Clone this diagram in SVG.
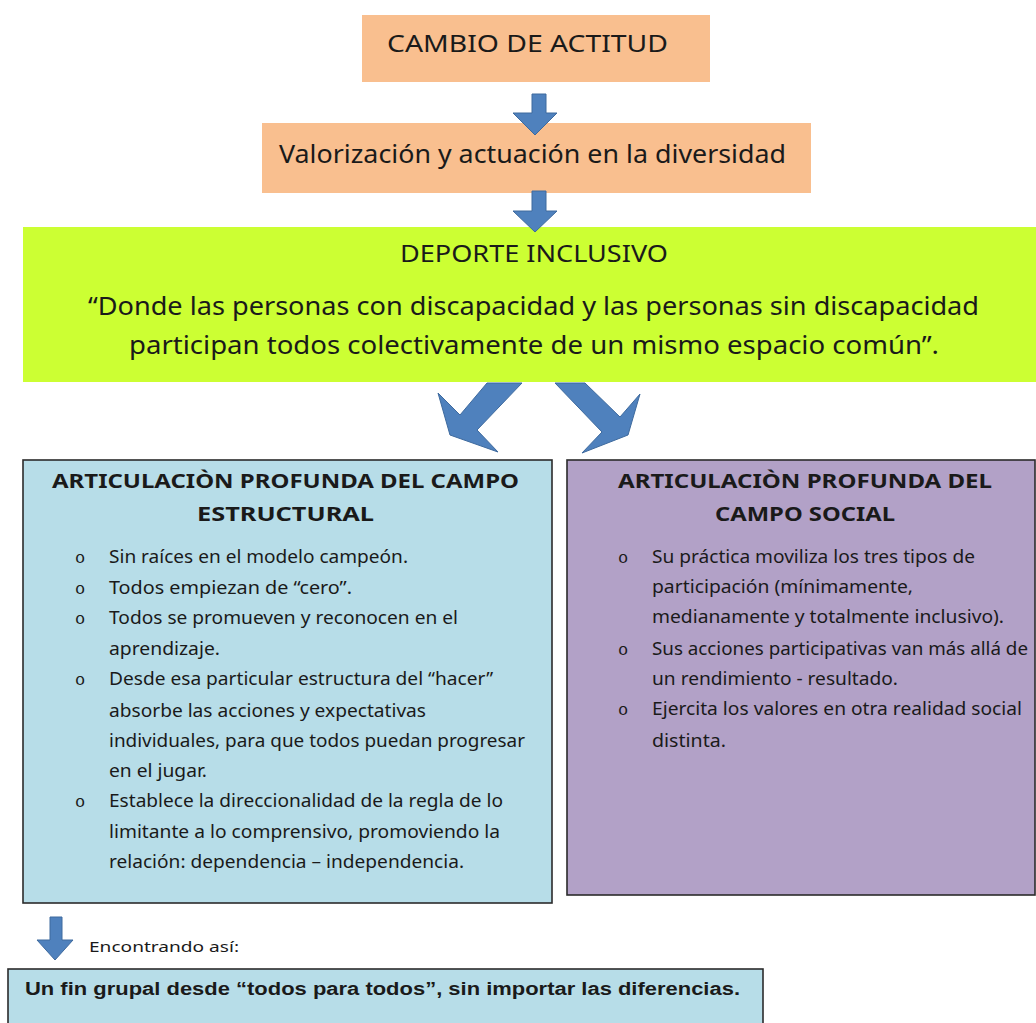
<svg xmlns="http://www.w3.org/2000/svg" width="1036" height="1023" viewBox="0 0 1036 1023">
<defs>
<style>
.t{font-family:"Noto Sans","Open Sans","Liberation Sans",sans-serif;fill:#1a1a1a}
.b{font-size:18px}
.h{font-size:20px;font-weight:bold}
.o{font-family:"Liberation Mono","DejaVu Sans Mono",monospace;font-size:17px;fill:#1a1a1a}
.arr{fill:#4F81BD;stroke:#3E6A9E;stroke-width:1}
.peach{fill:#F9BF8F}
.blue{fill:#B7DDE8;stroke:#2b2b2b;stroke-width:1.6}
.purple{fill:#B2A1C7;stroke:#2b2b2b;stroke-width:1.6}
</style>
</defs>
<rect width="1036" height="1023" fill="#ffffff"/>

<g id="n-cambio">
<rect class="peach" x="362" y="15" width="348" height="67"/>
<text class="t" x="387" y="52" font-size="24" textLength="281" lengthAdjust="spacingAndGlyphs">CAMBIO DE ACTITUD</text>
</g>

<g id="n-valorizacion">
<rect class="peach" x="262" y="123" width="549" height="70"/>
<text class="t" x="279" y="163" font-size="25" textLength="507" lengthAdjust="spacingAndGlyphs">Valorización y actuación en la diversidad</text>
</g>

<g id="n-deporte">
<rect x="23" y="227" width="1013" height="155" fill="#CCFF33"/>
<text class="t" x="400" y="262" font-size="23" textLength="268" lengthAdjust="spacingAndGlyphs">DEPORTE INCLUSIVO</text>
<text class="t" x="88" y="315" font-size="25" textLength="891" lengthAdjust="spacingAndGlyphs">“Donde las personas con discapacidad y las personas sin discapacidad</text>
<text class="t" x="129" y="354" font-size="25" textLength="810" lengthAdjust="spacingAndGlyphs">participan todos colectivamente de un mismo espacio común”.</text>
</g>

<g id="connectors">
<polygon class="arr" points="532,94 546,94 546,113 557,113 535,135 513,113 532,113"/>
<polygon class="arr" points="532,191 546,191 546,211 557,211 535,232 513,211 532,211"/>
<polygon class="arr" points="487,383 522,383 477,430 498,452 450,435 438,393 460,415"/>
<polygon class="arr" points="555,383 585,383 620,417 640,394 628,435 582,453 602,432"/>
<polygon class="arr" points="50,917 62,917 62,940 73,940 55,960 37,940 50,940"/>
</g>

<g id="n-estructural">
<rect class="blue" x="23" y="460" width="529" height="443"/>
<text class="t h" x="52" y="488" textLength="467" lengthAdjust="spacingAndGlyphs">ARTICULACIÒN  PROFUNDA DEL CAMPO</text>
<text class="t h" x="197" y="521" textLength="177" lengthAdjust="spacingAndGlyphs">ESTRUCTURAL</text>
<text class="o" x="75" y="563">o</text>
<text class="o" x="75" y="594">o</text>
<text class="o" x="75" y="624">o</text>
<text class="o" x="75" y="685">o</text>
<text class="o" x="75" y="807">o</text>
<text class="t b" x="109" y="563" textLength="299" lengthAdjust="spacingAndGlyphs">Sin raíces en el modelo campeón.</text>
<text class="t b" x="109" y="594" textLength="243" lengthAdjust="spacingAndGlyphs">Todos empiezan de “cero”.</text>
<text class="t b" x="109" y="624" textLength="349" lengthAdjust="spacingAndGlyphs">Todos se promueven y reconocen en el</text>
<text class="t b" x="109" y="655" textLength="111" lengthAdjust="spacingAndGlyphs">aprendizaje.</text>
<text class="t b" x="109" y="685" textLength="384" lengthAdjust="spacingAndGlyphs">Desde esa particular estructura del “hacer”</text>
<text class="t b" x="109" y="717" textLength="317" lengthAdjust="spacingAndGlyphs">absorbe las acciones y expectativas</text>
<text class="t b" x="109" y="747" textLength="416" lengthAdjust="spacingAndGlyphs">individuales, para que todos puedan progresar</text>
<text class="t b" x="109" y="777" textLength="98" lengthAdjust="spacingAndGlyphs">en el jugar.</text>
<text class="t b" x="109" y="807" textLength="394" lengthAdjust="spacingAndGlyphs">Establece la direccionalidad de la regla de lo</text>
<text class="t b" x="109" y="838" textLength="391" lengthAdjust="spacingAndGlyphs">limitante a lo comprensivo, promoviendo la</text>
<text class="t b" x="109" y="868" textLength="355" lengthAdjust="spacingAndGlyphs">relación: dependencia – independencia.</text>
</g>

<g id="n-social">
<rect class="purple" x="567" y="460" width="468" height="435"/>
<text class="t h" x="618" y="488" textLength="374" lengthAdjust="spacingAndGlyphs">ARTICULACIÒN  PROFUNDA DEL</text>
<text class="t h" x="715" y="521" textLength="180" lengthAdjust="spacingAndGlyphs">CAMPO  SOCIAL</text>
<text class="o" x="618" y="563">o</text>
<text class="o" x="618" y="655">o</text>
<text class="o" x="618" y="715">o</text>
<text class="t b" x="652" y="563" textLength="323" lengthAdjust="spacingAndGlyphs">Su práctica moviliza los tres tipos de</text>
<text class="t b" x="652" y="593" textLength="261" lengthAdjust="spacingAndGlyphs">participación (mínimamente,</text>
<text class="t b" x="652" y="623" textLength="352" lengthAdjust="spacingAndGlyphs">medianamente y totalmente inclusivo).</text>
<text class="t b" x="652" y="655" textLength="376" lengthAdjust="spacingAndGlyphs">Sus acciones participativas van más allá de</text>
<text class="t b" x="652" y="685" textLength="246" lengthAdjust="spacingAndGlyphs">un rendimiento - resultado.</text>
<text class="t b" x="652" y="715" textLength="370" lengthAdjust="spacingAndGlyphs">Ejercita los valores en otra realidad social</text>
<text class="t b" x="652" y="747" textLength="74" lengthAdjust="spacingAndGlyphs">distinta.</text>
</g>

<g id="n-encontrando">
<text class="t" x="89" y="952" font-size="15" textLength="150" lengthAdjust="spacingAndGlyphs">Encontrando así:</text>
</g>

<g id="n-fin">
<rect class="blue" x="8" y="969" width="755" height="70"/>
<text x="25" y="995" font-family="'Liberation Sans',Arial,sans-serif" font-size="18" font-weight="bold" fill="#1a1a1a" textLength="715" lengthAdjust="spacingAndGlyphs">Un fin grupal desde “todos para todos”, sin importar las diferencias.</text>
</g>
</svg>
